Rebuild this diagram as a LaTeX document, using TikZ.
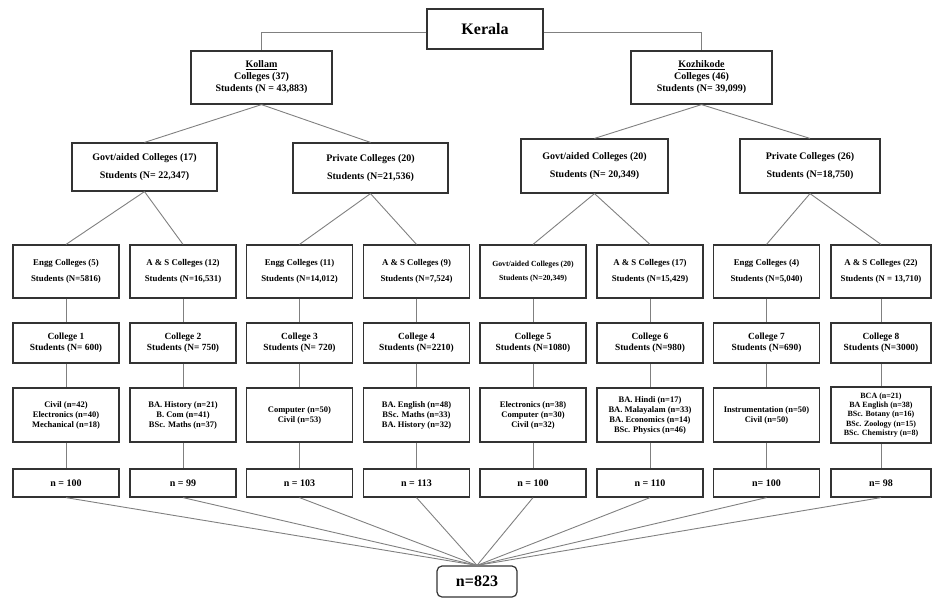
\documentclass[tikz,border=0pt]{standalone}
\usepackage{fontspec}
\setmainfont{Liberation Serif}
\begin{document}
\begin{tikzpicture}[x=1pt,y=-1pt,
  bx/.style={draw=black!80, line width=1.2pt, inner sep=0pt, align=center, fill=white},
  ln/.style={draw=black!50, line width=0.9pt},
  top/.style={bx, minimum width=116, minimum height=40, font=\bfseries\fontsize{16}{18}\selectfont},
  dist/.style={bx, minimum width=141, minimum height=53, font=\bfseries\fontsize{10}{12}\selectfont},
  sect/.style={bx, minimum height=50, font=\bfseries\fontsize{10}{18}\selectfont},
  kind/.style={bx, minimum width=106, minimum height=53, font=\bfseries\fontsize{8.8}{16}\selectfont},
  coll/.style={bx, minimum width=106, minimum height=40, font=\bfseries\fontsize{9.4}{11}\selectfont},
  prog/.style={bx, minimum width=106, minimum height=54, font=\bfseries\fontsize{8.5}{10}\selectfont},
  cnt/.style={bx, minimum width=106, minimum height=28, font=\bfseries\fontsize{10}{12}\selectfont},
  fin/.style={bx, rounded corners=5pt, minimum width=80, minimum height=31, font=\bfseries\fontsize{16}{18}\selectfont}]
\useasboundingbox (0,0) rectangle (934,598);

% level 0
\node[top] (ker) at (485,29) {Kerala};
% level 1
\node[dist] (kol) at (261.5,77.5) {\underline{Kollam}\\Colleges (37)\\Students (N = 43,883)};
\node[dist] (koz) at (701.5,77.5) {\underline{Kozhikode}\\Colleges (46)\\Students (N= 39,099)};
% level 2
\node[sect, minimum width=145, minimum height=48] (kg) at (144.5,167) {Govt/aided Colleges (17)\\Students (N= 22,347)};
\node[sect, minimum width=155] (kp) at (370.5,168) {Private Colleges (20)\\Students (N=21,536)};
\node[sect, minimum width=147, minimum height=54] (zg) at (594.5,166) {Govt/aided Colleges (20)\\Students (N= 20,349)};
\node[sect, minimum width=140, minimum height=54] (zp) at (810,166) {Private Colleges (26)\\Students (N=18,750)};

% level 3
\node[kind] (k1) at (66,271.5) {Engg Colleges (5)\\Students (N=5816)};
\node[kind] (k2) at (183,271.5) {A \& S Colleges (12)\\Students (N=16,531)};
\node[kind] (k3) at (299.5,271.5) {Engg Colleges (11)\\Students (N=14,012)};
\node[kind] (k4) at (416.5,271.5) {A \& S Colleges (9)\\Students (N=7,524)};
\node[kind, font=\bfseries\fontsize{7.8}{14}\selectfont] (k5) at (533,271.5) {Govt/aided Colleges (20)\\Students (N=20,349)};
\node[kind] (k6) at (650,271.5) {A \& S Colleges (17)\\Students (N=15,429)};
\node[kind] (k7) at (766.5,271.5) {Engg Colleges (4)\\Students (N=5,040)};
\node[kind, minimum width=100] (k8) at (881,271.5) {A \& S Colleges (22)\\Students (N = 13,710)};

% level 4
\node[coll] (c1) at (66,343) {College 1\\Students (N= 600)};
\node[coll] (c2) at (183,343) {College 2\\Students (N= 750)};
\node[coll] (c3) at (299.5,343) {College 3\\Students (N= 720)};
\node[coll] (c4) at (416.5,343) {College 4\\Students (N=2210)};
\node[coll] (c5) at (533,343) {College 5\\Students (N=1080)};
\node[coll] (c6) at (650,343) {College 6\\Students (N=980)};
\node[coll] (c7) at (766.5,343) {College 7\\Students (N=690)};
\node[coll, minimum width=100] (c8) at (881,343) {College 8\\Students (N=3000)};

% level 5
\node[prog] (p1) at (66,415) {Civil (n=42)\\Electronics (n=40)\\Mechanical (n=18)};
\node[prog] (p2) at (183,415) {BA. History (n=21)\\B. Com (n=41)\\BSc. Maths (n=37)};
\node[prog] (p3) at (299.5,415) {Computer (n=50)\\Civil (n=53)};
\node[prog] (p4) at (416.5,415) {BA. English (n=48)\\BSc. Maths (n=33)\\BA. History (n=32)};
\node[prog] (p5) at (533,415) {Electronics (n=38)\\Computer (n=30)\\Civil (n=32)};
\node[prog] (p6) at (650,415) {BA. Hindi (n=17)\\BA. Malayalam (n=33)\\BA. Economics (n=14)\\BSc. Physics (n=46)};
\node[prog] (p7) at (766.5,415) {Instrumentation (n=50)\\Civil (n=50)};
\node[prog, minimum width=100, minimum height=56, font=\bfseries\fontsize{8}{9.2}\selectfont] (p8) at (881,415) {BCA (n=21)\\BA English (n=38)\\BSc. Botany (n=16)\\BSc. Zoology (n=15)\\BSc. Chemistry (n=8)};

% level 6
\node[cnt] (n1) at (66,483) {n = 100};
\node[cnt] (n2) at (183,483) {n = 99};
\node[cnt] (n3) at (299.5,483) {n = 103};
\node[cnt] (n4) at (416.5,483) {n = 113};
\node[cnt] (n5) at (533,483) {n = 100};
\node[cnt] (n6) at (650,483) {n = 110};
\node[cnt] (n7) at (766.5,483) {n= 100};
\node[cnt, minimum width=100] (n8) at (881,483) {n= 98};

% final
\node[fin] (tot) at (477,581.5) {n=823};

% connectors
\draw[ln] ([yshift=-3pt]ker.west) -| (kol.north);
\draw[ln] ([yshift=-3pt]ker.east) -| (koz.north);
\draw[ln] (kol.south) -- (kg.north);
\draw[ln] (kol.south) -- (kp.north);
\draw[ln] (koz.south) -- (zg.north);
\draw[ln] (koz.south) -- (zp.north);
\draw[ln] (kg.south) -- (k1.north);
\draw[ln] (kg.south) -- (k2.north);
\draw[ln] (kp.south) -- (k3.north);
\draw[ln] (kp.south) -- (k4.north);
\draw[ln] (zg.south) -- (k5.north);
\draw[ln] (zg.south) -- (k6.north);
\draw[ln] (zp.south) -- (k7.north);
\draw[ln] (zp.south) -- (k8.north);
\foreach \i in {1,...,8}{
  \draw[ln] (k\i.south) -- (c\i.north);
  \draw[ln] (c\i.south) -- (p\i.north);
  \draw[ln] (p\i.south) -- (n\i.north);
  \draw[ln] (n\i.south) -- (tot.north);
}
\end{tikzpicture}
\end{document}
